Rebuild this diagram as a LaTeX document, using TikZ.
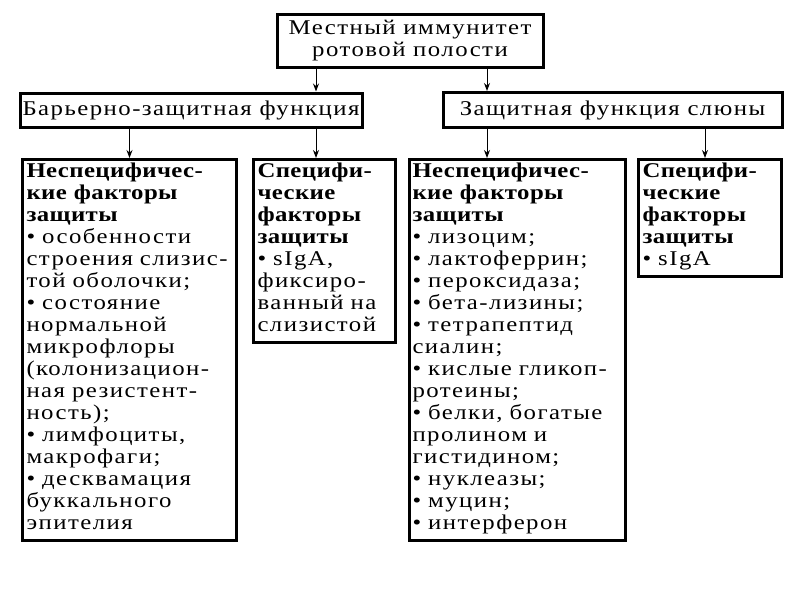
\documentclass[tikz,border=0pt]{standalone}
\usepackage{fontspec}
\setmainfont{Liberation Serif}[FakeStretch=1.18, LetterSpace=7, BoldFeatures={LetterSpace=2}]
\usetikzlibrary{arrows.meta,positioning}
\tikzset{
  frame/.style={rectangle, draw, line width=3pt},
  head/.style={frame, align=center, inner sep=2pt, font=\fontsize{21}{22}\selectfont},
  factor/.style={frame, anchor=north west, align=left, inner xsep=4pt, inner ysep=3pt,
    execute at end node={\rule[-8.5pt]{0pt}{8.5pt}}, font=\fontsize{21}{22}\selectfont},
  arr/.style={-{Stealth[length=8pt,width=6pt]}, line width=1pt}
}

\begin{document}
\begin{tikzpicture}[x=1pt,y=-1pt]
\useasboundingbox (0,0) rectangle (800,600);
% arrow columns
\path (316,0) coordinate (c1) (487,0) coordinate (c2) (705,0) coordinate (c3);

\node[head, minimum width=266pt, minimum height=53pt] (mouth) at (410,40.5) {Местный иммунитет\\ротовой полости};
\node[head, minimum width=342pt, minimum height=34pt] (barrier) at (191,110) {Барьерно-защитная функция};
\node[head, minimum width=339pt, minimum height=35pt] (saliva) at (612.5,110) {Защитная функция слюны};

\node[factor, text width=206pt] (nsl) at (21,158)
  {\textbf{Неспецифичес-}\\\textbf{кие факторы}\\\textbf{защиты}\\
   • особенности\\строения слизис-\\той оболочки;\\• состояние\\нормальной\\микрофлоры\\
   (колонизацион-\\ная резистент-\\ность);\\• лимфоциты,\\макрофаги;\\• десквамация\\буккального\\эпителия};
\node[factor, text width=134pt] (sl) at (252,158)
  {\textbf{Специфи-}\\\textbf{ческие}\\\textbf{факторы}\\\textbf{защиты}\\
   • sIgA,\\фиксиро-\\ванный на\\слизистой};
\node[factor, inner xsep=3pt, text width=210pt] (nsr) at (408,158)
  {\textbf{Неспецифичес-}\\\textbf{кие факторы}\\\textbf{защиты}\\
   • лизоцим;\\• лактоферрин;\\• пероксидаза;\\• бета-лизины;\\• тетрапептид\\сиалин;\\
   • кислые гликоп-\\ротеины;\\• белки, богатые\\пролином и\\гистидином;\\• нуклеазы;\\• муцин;\\• интерферон};
\node[factor, text width=135pt] (sr) at (637,158)
  {\textbf{Специфи-}\\\textbf{ческие}\\\textbf{факторы}\\\textbf{защиты}\\• sIgA};

\draw[arr] (mouth.south -| c1) -- (barrier.north -| c1);
\draw[arr] (mouth.south -| c2) -- (saliva.north -| c2);
\draw[arr] (barrier.south -| nsl.north) -- (nsl.north);
\draw[arr] (barrier.south -| c1) -- (sl.north -| c1);
\draw[arr] (saliva.south -| c2) -- (nsr.north -| c2);
\draw[arr] (saliva.south -| c3) -- (sr.north -| c3);
\end{tikzpicture}
\end{document}
